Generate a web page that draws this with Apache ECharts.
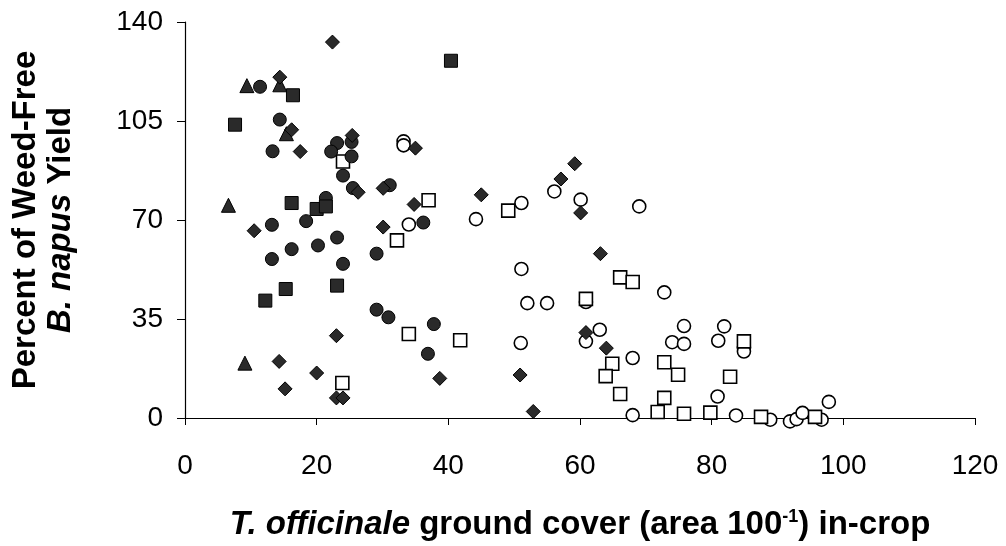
<!DOCTYPE html>
<html>
<head>
<meta charset="utf-8">
<script src="https://cdn.jsdelivr.net/npm/echarts@6/dist/echarts.min.js"></script>
<style>
  html, body { margin: 0; padding: 0; background: #fff; }
  #chart { width: 1006px; height: 546px; }
</style>
</head>
<body>
<div id="chart"></div>
<script>
// axis ticks
const xTicks = [0, 20, 40, 60, 80, 100, 120]
const yTicks = [0, 35, 70, 105, 140]

// filled triangles
const triFilled = [[9.4, 117.5], [14.4, 117.8], [15.4, 100.5], [6.6, 75.2], [9.1, 19.4]]

// filled circles
const circFilled = [
  [11.4, 117.1], [14.4, 105.5], [13.3, 94.3], [23.1, 97.2], [22.2, 94.2], [25.3, 97.6],
  [25.3, 92.5], [24.0, 85.7], [25.5, 81.3], [31.1, 82.3], [21.4, 77.8], [13.2, 68.3],
  [18.4, 69.6], [36.2, 69.1], [23.1, 63.8], [20.2, 61.0], [16.2, 59.7], [13.2, 56.2],
  [24.0, 54.5], [29.1, 58.1], [29.1, 38.3], [30.9, 35.6], [37.8, 33.2], [36.9, 22.7]
]

// filled squares
const sqFilled = [
  [40.4, 126.3], [16.4, 114.1], [7.6, 103.7], [16.2, 76.0], [20.0, 73.9], [21.4, 74.8],
  [15.3, 45.6], [23.1, 46.8], [12.2, 41.5]
]

// filled diamonds
const diaFilled = [
  [22.4, 132.9], [14.4, 120.5], [16.2, 101.9], [17.5, 94.2], [25.4, 99.9], [26.3, 79.8],
  [30.1, 81.2], [35.0, 95.4], [34.8, 75.5], [10.5, 66.2], [30.1, 67.5], [23.0, 29.1],
  [14.3, 20.0], [20.0, 15.9], [15.2, 10.3], [23.0, 7.1], [24.0, 7.1], [38.7, 14.0],
  [45.0, 78.9], [59.2, 89.9], [57.1, 84.5], [60.1, 72.5], [63.1, 58.1], [60.9, 30.2],
  [64.0, 24.7], [50.9, 15.2], [52.9, 2.3]
]

// open circles
const circOpen = [
  [33.2, 97.8], [33.2, 96.4], [34.0, 68.4], [44.2, 70.3], [51.1, 76.0], [56.1, 80.1],
  [60.1, 77.2], [69.0, 74.8], [51.1, 52.7], [52.0, 40.6], [55.0, 40.6], [60.9, 41.0],
  [72.8, 44.4], [51.0, 26.5], [60.9, 27.1], [63.0, 31.2], [68.0, 21.2], [75.8, 32.5],
  [74.0, 26.8], [75.8, 26.2], [81.9, 32.4], [81.0, 27.3], [84.9, 25.0], [84.9, 23.5],
  [80.9, 7.6], [68.0, 1.0], [83.7, 0.9], [88.9, -0.6], [91.9, -1.2], [92.9, -0.4],
  [93.8, 1.8], [96.7, -0.6], [97.8, 5.7]
]

// open squares
const sqOpen = [
  [24.0, 90.7], [37.0, 77.0], [32.2, 62.8], [34.0, 29.7], [41.8, 27.5], [23.9, 12.4],
  [49.1, 73.3], [66.1, 49.7], [68.0, 48.1], [60.9, 42.1], [64.9, 19.2], [63.9, 14.8],
  [72.8, 19.7], [74.9, 15.3], [66.1, 8.5], [72.8, 7.1], [71.8, 2.1], [75.8, 1.5],
  [79.8, 1.9], [82.8, 14.6], [84.9, 27.1], [87.5, 0.4], [95.7, 0.4]
]

const FONT = '"Liberation Sans", Arial, sans-serif'

const chart = echarts.init(document.getElementById('chart'))

function filled(data, symbol, size) {
  return {
    type: 'scatter', data: data, symbol: symbol, symbolSize: size, clip: false,
    itemStyle: { color: '#2a2a2a', borderColor: '#000', borderWidth: 1, opacity: 1 }
  }
}
function open(data, symbol, size) {
  return {
    type: 'scatter', data: data, symbol: symbol, symbolSize: size, clip: false,
    itemStyle: { color: '#fff', borderColor: '#000', borderWidth: 1.6, opacity: 1 }
  }
}

const option = {
  animation: false,
  backgroundColor: '#fff',
  grid: { left: 185, right: 31, top: 22, bottom: 128, outerBoundsMode: 'none' },
  xAxis: {
    type: 'value',
    min: xTicks[0],
    max: xTicks[xTicks.length - 1],
    interval: 20,
    splitLine: { show: false },
    axisLine: { onZero: false, lineStyle: { color: '#000', width: 1.2 } },
    axisTick: { show: true, length: 7, lineStyle: { color: '#000' } },
    axisLabel: { color: '#000', fontSize: 28, fontFamily: FONT, margin: 34 },
    name: '{i|T. officinale} ground cover (area 100{s|-1}) in-crop',
    nameLocation: 'middle',
    nameGap: 90,
    nameTextStyle: {
      color: '#000', fontSize: 33, fontWeight: 'bold', fontFamily: FONT,
      rich: {
        i: { fontStyle: 'italic', fontWeight: 'bold', fontSize: 33, fontFamily: FONT, color: '#000' },
        s: { fontSize: 18, fontWeight: 'bold', fontFamily: FONT, color: '#000', verticalAlign: 'top', padding: [0, 0, 14, 0] }
      }
    }
  },
  yAxis: {
    type: 'value',
    min: yTicks[0],
    max: yTicks[yTicks.length - 1],
    interval: 35,
    splitLine: { show: false },
    axisLine: { show: true, lineStyle: { color: '#000', width: 1.2 } },
    axisTick: { show: true, length: 8, lineStyle: { color: '#000' } },
    axisLabel: { color: '#000', fontSize: 28, fontFamily: FONT, margin: 22 },
    name: 'Percent of Weed-Free\n{i|B. napus} Yield',
    nameLocation: 'middle',
    nameGap: 107,
    nameRotate: 90,
    nameTextStyle: {
      color: '#000', fontSize: 33, fontWeight: 'bold', fontFamily: FONT, lineHeight: 35,
      rich: {
        i: { fontStyle: 'italic', fontWeight: 'bold', fontSize: 33, fontFamily: FONT, color: '#000', lineHeight: 35 }
      }
    }
  },
  series: [
    open(circOpen, 'circle', 13),
    open(sqOpen, 'rect', 13),
    filled(triFilled, 'triangle', 14),
    filled(circFilled, 'circle', 13),
    filled(sqFilled, 'rect', 13),
    filled(diaFilled, 'diamond', 14)
  ]
}

chart.setOption(option)
</script>
</body>
</html>
